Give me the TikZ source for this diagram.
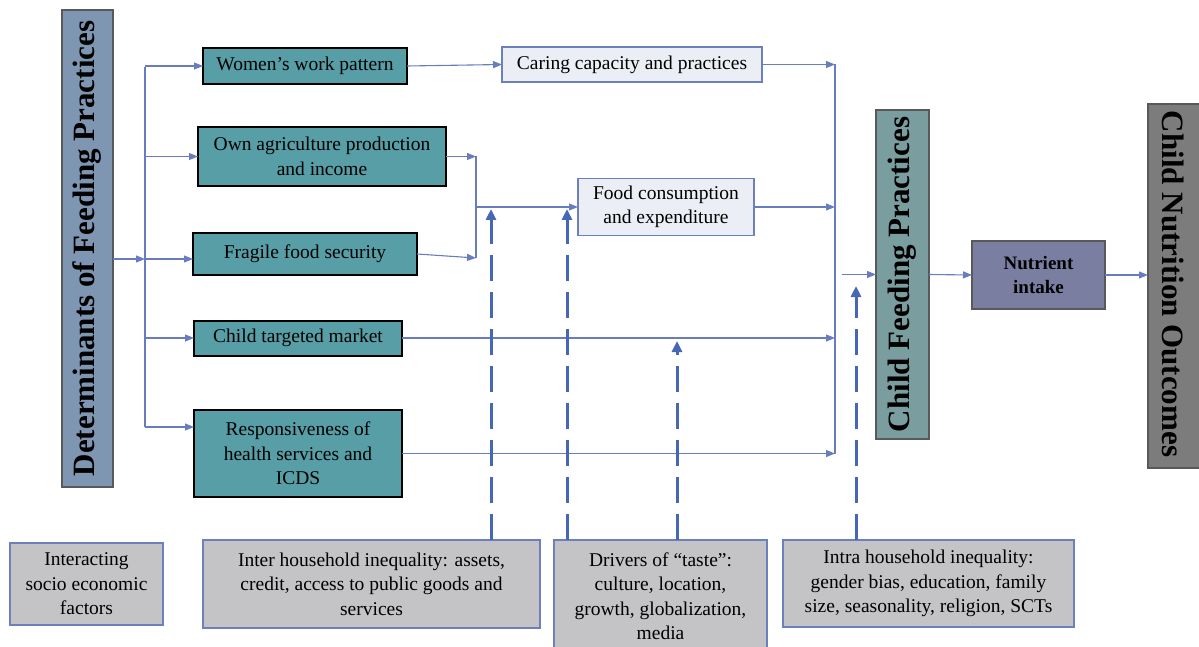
\documentclass[tikz,border=0pt]{standalone}
\usepackage{fontspec}
\setmainfont{Liberation Serif}
\usetikzlibrary{arrows.meta}

\definecolor{linkblue}{RGB}{104,124,192}
\definecolor{dashblue}{RGB}{70,102,182}
\definecolor{boxteal}{RGB}{88,158,166}
\definecolor{paleblue}{RGB}{235,238,244}
\definecolor{detfill}{RGB}{126,150,178}
\definecolor{cfpfill}{RGB}{122,157,159}
\definecolor{nutrfill}{RGB}{122,127,162}
\definecolor{outcfill}{RGB}{124,124,124}
\definecolor{greyfill}{RGB}{196,196,198}
\definecolor{frameblue}{RGB}{108,128,190}

\begin{document}
\begin{tikzpicture}[x=1pt,y=-1pt,
  txt/.style={font=\fontsize{19.5}{24.5}\selectfont, align=center, text=black},
  title/.style={font=\bfseries\fontsize{31}{34}\selectfont, text=black},
  base/.style={inner sep=0pt, outer sep=0pt, txt},
  tealbox/.style={base, fill=boxteal, draw=black, line width=2pt},
  palebox/.style={base, fill=paleblue, draw=frameblue, line width=1.6pt},
  greybox/.style={base, fill=greyfill, draw=frameblue, line width=1.4pt},
  bigbox/.style={base, draw=black!65, line width=1.2pt},
  conn/.style={draw=linkblue, line width=1.1pt},
  arr/.style={-{Triangle[length=9pt,width=7pt]}},
  dasharr/.style={draw=dashblue, line width=3pt, dash pattern=on 26pt off 11pt,
                  -{Triangle[length=11pt,width=10pt]}}
]
\useasboundingbox (0,0) rectangle (1199,647);

% column of determinants
\node[bigbox, fill=detfill, minimum width=51pt, minimum height=477pt] (det) at (87.5,248.5) {};
\node[title, rotate=90] (detText) at (det.center) {Determinants of Feeding Practices};

% first-level determinants
\node[tealbox, minimum width=204pt, minimum height=36pt] (women) at (305,66) {Women’s work pattern};
\node[tealbox, minimum width=248pt, minimum height=59pt] (agri) at (322,156.5) {Own agriculture production\\and income};
\node[tealbox, minimum width=224pt, minimum height=42pt] (fragile) at (305,254) {Fragile food security};
\node[tealbox, minimum width=208pt, minimum height=35pt] (market) at (298,338) {Child targeted market};
\node[tealbox, minimum width=208pt, minimum height=87pt] (resp) at (298,453.5) {Responsiveness of\\health services and\\ICDS};

% intermediate outcomes
\node[palebox, minimum width=260pt, minimum height=35pt] (caring) at (632,64.5) {Caring capacity and practices};
\node[palebox, minimum width=176pt, minimum height=57pt] (food) at (666,207) {Food consumption\\and expenditure};

% feeding practices and nutrition
\node[bigbox, fill=cfpfill, minimum width=53pt, minimum height=329pt] (cfp) at (902.5,274.5) {};
\node[title, rotate=90] (cfpText) at (cfp.center) {Child Feeding Practices};
\node[bigbox, fill=nutrfill, minimum width=133pt, minimum height=68pt,
      font=\bfseries\fontsize{19}{24}\selectfont] (nutr) at (1038.5,275) {Nutrient\\intake};
\node[bigbox, fill=outcfill, minimum width=54pt, minimum height=364pt] (outc) at (1175,286) {};
\node[title, rotate=-90] (outcText) at (1173.5,284) {Child Nutrition Outcomes};

% interacting factors
\node[greybox, minimum width=153pt, minimum height=82pt] (interact) at (86.5,584) {Interacting\\socio economic\\factors};
\node[greybox, minimum width=337pt, minimum height=88pt] (inter) at (371.5,584) {Inter household inequality: assets,\\credit, access to public goods and\\services};
\node[greybox, minimum width=213pt, minimum height=112pt] (drivers) at (660.5,596) {Drivers of “taste”:\\culture, location,\\growth, globalization,\\media};
\node[greybox, minimum width=291pt, minimum height=87pt] (intra) at (928.5,583.5) {Intra household inequality:\\gender bias, education, family\\size, seasonality, religion, SCTs};

% trunk fanning out from the determinants
\coordinate (tTop) at (145,67);
\coordinate (tMid) at (145,259);
\coordinate (tBot) at (145,427);
\draw[conn] (tTop) -- (tBot);
\draw[conn, arr] (det.east |- tMid) -- (tMid);
\draw[conn, arr] (women.west -| tTop) -- (women.west);
\draw[conn, arr] (agri.west -| tTop) -- (agri.west);
\draw[conn, arr] (tMid) -- (tMid -| fragile.west);
\draw[conn, arr] (market.west -| tTop) -- (market.west);
\draw[conn, arr] (tBot) -- (tBot -| resp.west);

% women's work to caring
\draw[conn, arr] (women.east) -- (caring.west);

% production and food security join towards consumption
\coordinate (jTop) at (476,156.5);
\coordinate (jMid) at (476,207);
\coordinate (jBot) at (476,258);
\draw[conn] (jTop) -- (jBot);
\draw[conn, arr] (agri.east) -- (jTop);
\draw[conn, arr] (fragile.east) -- (jBot);
\draw[conn, arr] (jMid) -- (food.west);

% collector towards feeding practices
\coordinate (cTop) at (835,64.5);
\coordinate (cBot) at (835,453.5);
\draw[conn] (cTop) -- (cBot);
\draw[conn, arr] (caring.east) -- (cTop);
\draw[conn, arr] (food.east) -- (food.east -| cTop);
\draw[conn, arr] (market.east) -- (market.east -| cTop);
\draw[conn, arr] (resp.east) -- (cBot);
\coordinate (cfpIn) at (842,274.5);
\draw[conn, arr] (cfpIn) -- (cfp.west);
\draw[conn, arr] (cfp.east) -- (nutr.west);
\draw[conn, arr] (nutr.east) -- (nutr.east -| outc.west);

% influence of interacting factors
\coordinate (d1) at (491,209);
\coordinate (d2) at (567,209);
\coordinate (d3) at (677,341);
\coordinate (d4) at (856,286);
\draw[dasharr] (inter.north -| d1) -- (d1);
\draw[dasharr] (drivers.north -| d2) -- (d2);
\draw[dasharr] (drivers.north -| d3) -- (d3);
\draw[dasharr] (intra.north -| d4) -- (d4);
\end{tikzpicture}
\end{document}
